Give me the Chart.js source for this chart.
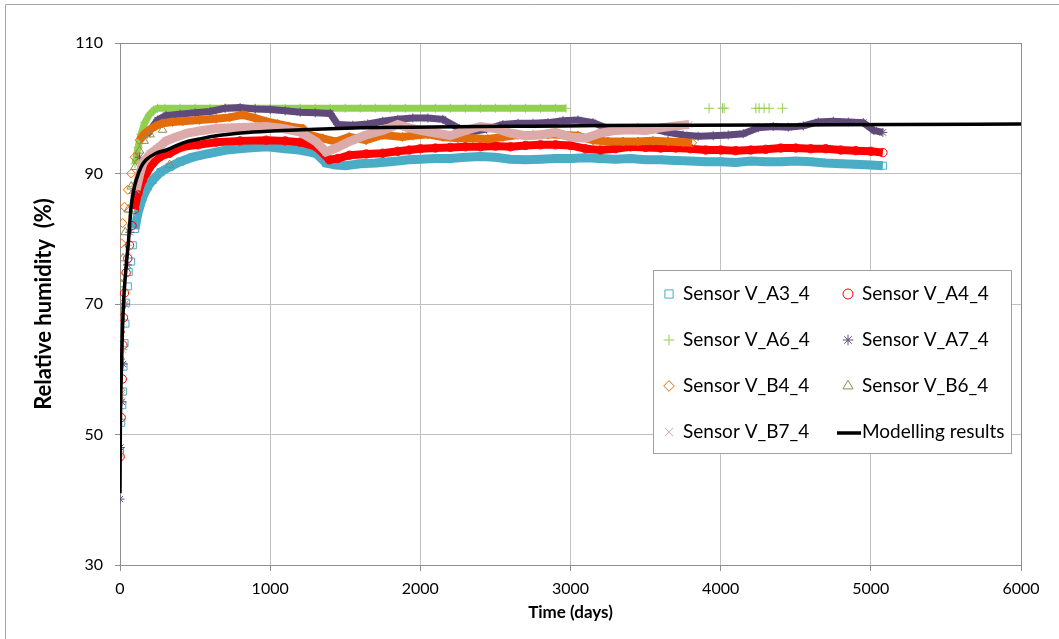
<!DOCTYPE html>
<html>
<head>
<meta charset="utf-8">
<style>
  html, body { margin: 0; padding: 0; background: #fff; }
  #wrap { width: 1059px; height: 639px; position: relative; }
</style>
<script src="https://cdn.jsdelivr.net/npm/chart.js@4.4.1/dist/chart.umd.min.js"></script>
</head>
<body>
<div id="wrap"><canvas id="rhChart"></canvas></div>
<script>
// Relative humidity measured by sensors vs. modelling results

// Sensor V_A3_4
const a3Days = [0, 8, 15, 19, 23, 30, 36, 41, 52, 58, 74, 85, 100, 120, 152, 185, 218, 270, 330, 400, 483, 580, 708, 850, 980, 1100, 1195, 1305, 1372, 1438, 1500, 1600, 1700, 1800, 1926, 2000, 2100, 2200, 2300, 2400, 2500, 2600, 2700, 2800, 2900, 3000, 3100, 3200, 3300, 3400, 3500, 3600, 3700, 3800, 3900, 4000, 4100, 4200, 4300, 4400, 4500, 4600, 4700, 4800, 4900, 5000, 5080];
const a3Rh = [47.4, 51.8, 54.5, 56.6, 60.4, 64.0, 67.0, 70.2, 72.7, 74.9, 76.5, 79.0, 81.5, 84.0, 86.4, 88.0, 89.0, 90.2, 91.0, 91.8, 92.5, 93.0, 93.6, 93.9, 94.1, 93.8, 93.6, 93.1, 91.6, 91.3, 91.2, 91.5, 91.6, 91.8, 92.1, 92.2, 92.3, 92.3, 92.5, 92.6, 92.5, 92.2, 92.1, 92.2, 92.3, 92.3, 92.4, 92.3, 92.2, 92.3, 92.1, 92.1, 92.0, 91.9, 91.8, 91.8, 91.7, 91.9, 91.8, 91.8, 91.9, 91.8, 91.6, 91.5, 91.4, 91.3, 91.2];

// Sensor V_A4_4
const a4Days = [1, 8, 15, 19, 23, 30, 41, 52, 63, 80, 97, 120, 150, 174, 220, 270, 330, 418, 520, 640, 800, 973, 1100, 1200, 1305, 1394, 1450, 1527, 1640, 1749, 1850, 1926, 2000, 2100, 2200, 2300, 2400, 2500, 2600, 2700, 2800, 2900, 3000, 3100, 3200, 3300, 3400, 3500, 3600, 3700, 3800, 3900, 4000, 4100, 4200, 4300, 4400, 4500, 4600, 4700, 4800, 4900, 5000, 5080];
const a4Rh = [46.6, 52.6, 58.5, 63.7, 67.9, 71.7, 74.8, 77.0, 79.0, 82.0, 84.5, 87.0, 89.0, 90.0, 91.6, 92.6, 93.1, 94.1, 94.4, 94.8, 95.0, 95.1, 95.0, 94.8, 94.1, 92.1, 92.3, 92.8, 93.0, 93.1, 93.4, 93.6, 93.8, 93.9, 94.0, 94.1, 94.1, 94.2, 94.1, 94.3, 94.4, 94.4, 94.3, 93.8, 93.6, 93.8, 94.1, 94.0, 93.9, 93.9, 93.8, 93.6, 93.6, 93.5, 93.6, 93.7, 93.9, 93.9, 93.8, 93.8, 93.6, 93.5, 93.4, 93.2];

// Sensor V_A6_4 (saturates at 100 %)
const a6Days = [0, 10, 20, 35, 50, 65, 80, 100, 120, 140, 165, 195, 225, 250, 300, 400, 500, 600, 700, 800, 900, 1000, 1100, 1200, 1300, 1400, 1500, 1600, 1700, 1800, 1900, 2000, 2100, 2200, 2300, 2400, 2500, 2600, 2700, 2800, 2900, 2970];
const a6Rh = [47, 56, 63, 72, 79, 84, 88, 91.5, 94, 96, 97.8, 99, 99.7, 100, 100, 100, 100, 100, 100, 100, 100, 100, 100, 100, 100, 100, 100, 100, 100, 100, 100, 100, 100, 100, 100, 100, 100, 100, 100, 100, 100, 100];
// a few isolated late readings of V_A6_4
const a6LateDays = [3923, 4012, 4023, 4234, 4256, 4289, 4323, 4411];
const a6LateRh = [100, 100, 100, 100, 100, 100, 100, 100];

// Sensor V_A7_4
const a7Days = [0, 3, 12, 20, 35, 50, 65, 90, 130, 180, 250, 307, 400, 500, 600, 700, 800, 900, 1000, 1100, 1200, 1300, 1400, 1450, 1550, 1650, 1750, 1850, 1950, 2050, 2150, 2260, 2350, 2440, 2550, 2650, 2750, 2850, 2950, 3050, 3150, 3250, 3350, 3450, 3550, 3650, 3750, 3850, 3950, 4050, 4150, 4250, 4350, 4450, 4550, 4650, 4750, 4850, 4950, 5020, 5080];
const a7Rh = [40.1, 48, 55, 60.8, 70, 76, 81, 87, 92.5, 96, 98.2, 98.9, 99.1, 99.3, 99.5, 100, 100.1, 99.9, 99.8, 99.6, 99.4, 99.3, 99.2, 97.5, 97.4, 97.6, 98.0, 98.3, 98.5, 98.5, 98.3, 96.9, 96.4, 96.8, 97.5, 97.7, 97.7, 97.8, 98.1, 98.2, 97.8, 96.9, 96.9, 97.0, 96.8, 96.3, 95.9, 95.7, 95.8, 95.9, 96.1, 97.0, 97.2, 97.1, 97.3, 97.9, 98.0, 97.9, 97.8, 96.6, 96.3];

// Sensor V_B4_4
const b4Days = [1, 3, 5, 7, 10, 18, 30, 52, 75, 97, 130, 160, 196, 240, 283, 350, 418, 530, 640, 730, 817, 900, 973, 1050, 1128, 1217, 1261, 1350, 1438, 1527, 1638, 1749, 1882, 1950, 2050, 2150, 2250, 2350, 2450, 2550, 2650, 2750, 2850, 2950, 3050, 3150, 3250, 3350, 3450, 3550, 3650, 3750, 3810];
const b4Rh = [56.8, 65.7, 70, 74.1, 79.3, 82.4, 84.9, 87.5, 90, 92.5, 95.1, 96, 96.7, 97.3, 97.7, 97.9, 98, 98.2, 98.4, 98.6, 99, 98.5, 98, 97.6, 97.2, 96.9, 95.9, 95.4, 94.9, 95.6, 95.1, 95.9, 95.6, 95.8, 96.0, 95.6, 95.4, 95.4, 95.3, 95.6, 95.9, 95.9, 96.0, 95.9, 95.8, 95.1, 94.9, 94.9, 94.9, 95.0, 94.9, 94.8, 94.7];

// Sensor V_B6_4 (only early readings)
const b6Days = [1, 2, 4, 10, 20, 35, 55, 75, 100, 130, 160, 200, 230, 283, 330];
const b6Rh = [55.4, 61.9, 68, 73, 77, 81, 84.5, 88, 91, 93.5, 95, 96, 93.6, 96.7, 91.3];

// Sensor V_B7_4
const b7Days = [0, 10, 20, 35, 55, 80, 108, 130, 152, 200, 263, 307, 375, 450, 550, 640, 750, 850, 973, 1084, 1195, 1305, 1372, 1438, 1527, 1638, 1749, 1850, 1926, 2000, 2100, 2200, 2300, 2400, 2500, 2600, 2700, 2800, 2900, 3000, 3100, 3200, 3300, 3400, 3500, 3600, 3700, 3790];
const b7Rh = [47, 56, 63, 70, 78, 84, 87.5, 89.8, 91.6, 93, 94.1, 95, 95.6, 96.2, 96.6, 96.9, 97, 97.1, 97.2, 96.9, 96.4, 94.9, 93.3, 93.9, 94.9, 95.9, 96.6, 97.5, 97, 96.6, 96.2, 95.8, 96.6, 97.2, 96.9, 96.2, 95.8, 95.9, 96.3, 95.6, 95.4, 96.2, 96.6, 96.7, 96.6, 97, 97.3, 97.5];

// Modelling results
const modelDays = [0, 2, 9, 22, 40, 57, 74, 90, 108, 140, 174, 240, 310, 420, 530, 640, 850, 1084, 1305, 1600, 1926, 2400, 2750, 3200, 3800, 4500, 5200, 6000];
const modelRh = [41, 50.2, 59.4, 69.5, 75.5, 79.8, 84.9, 87.3, 89, 91, 92.1, 93.1, 93.6, 94.7, 95.3, 95.8, 96.3, 96.6, 96.8, 97.0, 97.1, 97.2, 97.25, 97.35, 97.4, 97.45, 97.5, 97.6];

// Axis ticks
const xTicks = [0, 1000, 2000, 3000, 4000, 5000, 6000];
const yTicks = [30, 50, 70, 90, 110];

const FONT = 'Lato, "Open Sans", sans-serif';

function pts(days, rh) {
    return days.map((d, i) => ({ x: d, y: rh[i] }));
}

// Only markers during the fast early rise and across gaps / jumps
function gapColor(ctx) {
    const x0 = ctx.p0.parsed.x;
    const dx = ctx.p1.parsed.x - x0;
    const dy = Math.abs(ctx.p1.parsed.y - ctx.p0.parsed.y);
    return (x0 < 90 || dx > 200 || dy > 2.5) ? 'rgba(0,0,0,0)' : undefined;
}

function sensor(label, days, rh, color, style, radius, band, order) {
    return {
        label: label,
        data: pts(days, rh),
        showLine: band > 0,
        borderColor: color,
        borderWidth: band,
        pointStyle: style,
        pointRadius: radius,
        pointBorderWidth: 1,
        pointBorderColor: color,
        pointBackgroundColor: 'rgba(255,255,255,0)',
        segment: { borderColor: gapColor },
        order: order
    };
}

const lateA6 = sensor('Sensor V_A6_4', a6LateDays, a6LateRh, '#92d050', 'cross', 5, 0, 5);
lateA6.legendSkip = true;

const datasets = [
    sensor('Sensor V_A3_4', a3Days, a3Rh, '#4bacc6', 'rect', 5, 9, 7),
    sensor('Sensor V_A4_4', a4Days, a4Rh, '#ff0000', 'circle', 4.2, 8, 6),
    sensor('Sensor V_A6_4', a6Days, a6Rh, '#92d050', 'cross', 4.5, 7, 5),
    sensor('Sensor V_A7_4', a7Days, a7Rh, '#604a7b', 'star', 4.5, 7, 4),
    sensor('Sensor V_B4_4', b4Days, b4Rh, '#e46c0a', 'rectRot', 4.5, 8, 3),
    sensor('Sensor V_B6_4', b6Days, b6Rh, '#948a54', 'triangle', 5, 0, 2),
    sensor('Sensor V_B7_4', b7Days, b7Rh, '#dcaaa9', 'crossRot', 5, 9, 1),
    {
        label: 'Modelling results',
        data: pts(modelDays, modelRh),
        showLine: true,
        borderColor: '#000',
        borderWidth: 3.5,
        pointRadius: 0,
        cubicInterpolationMode: 'monotone',
        order: 0
    },
    lateA6
];

// White background + outer frame
const framePlugin = {
    id: 'frame',
    beforeDraw(chart) {
        const ctx = chart.ctx;
        ctx.save();
        ctx.fillStyle = '#fff';
        ctx.fillRect(0, 0, chart.width, chart.height);
        ctx.strokeStyle = '#a6a6a6';
        ctx.lineWidth = 1;
        ctx.beginPath();
        ctx.moveTo(5.5, chart.height);
        ctx.lineTo(5.5, 4.5);
        ctx.lineTo(chart.width, 4.5);
        ctx.stroke();
        ctx.restore();
    }
};

// Two-column legend box inside the plot
const legendPlugin = {
    id: 'boxLegend',
    afterDraw(chart) {
        const ctx = chart.ctx;
        const box = { x: 653.5, y: 270.5, w: 358, h: 183 };
        const colMarker = [669, 848];
        const colText = [683, 862];
        const rowY = [294, 340, 386, 432];
        ctx.save();
        ctx.fillStyle = '#fff';
        ctx.fillRect(box.x, box.y, box.w, box.h);
        ctx.strokeStyle = '#a0a0a0';
        ctx.lineWidth = 1;
        ctx.strokeRect(box.x, box.y, box.w, box.h);
        ctx.font = '19px ' + FONT;
        ctx.textBaseline = 'middle';
        chart.data.datasets.filter(ds => !ds.legendSkip).forEach((ds, i) => {
            const col = i % 2;
            const row = Math.floor(i / 2);
            const mx = colMarker[col];
            const y = rowY[row];
            if (ds.pointRadius > 0) {
                ctx.strokeStyle = ds.pointBorderColor;
                ctx.fillStyle = 'rgba(0,0,0,0)';
                ctx.lineWidth = 1;
                Chart.helpers.drawPoint(ctx, {
                    pointStyle: ds.pointStyle,
                    radius: ds.pointRadius + 0.8,
                    rotation: 0,
                    borderWidth: 1
                }, mx, y);
            } else {
                ctx.strokeStyle = ds.borderColor;
                ctx.lineWidth = 3.5;
                ctx.beginPath();
                ctx.moveTo(mx - 11, y + 1);
                ctx.lineTo(colText[col] - 1, y + 1);
                ctx.stroke();
            }
            ctx.fillStyle = '#000';
            ctx.fillText(ds.label, colText[col], y);
        });
        ctx.restore();
    }
};

new Chart(document.getElementById('rhChart'), {
    type: 'scatter',
    data: { datasets: datasets },
    plugins: [framePlugin, legendPlugin],
    options: {
        responsive: true,
        maintainAspectRatio: false,
        animation: false,
        devicePixelRatio: 1,
        layout: { padding: { left: 0, top: 43, right: 38, bottom: 0 } },
        plugins: {
            legend: { display: false },
            tooltip: { enabled: false }
        },
        scales: {
            x: {
                type: 'linear',
                min: 0,
                max: 6000,
                afterFit: s => { s.height = 74; },
                afterBuildTicks: s => { s.ticks = xTicks.map(v => ({ value: v })); },
                ticks: {
                    color: '#000',
                    padding: 8,
                    font: { family: FONT, size: 16 },
                    callback: v => String(v)
                },
                grid: {
                    color: c => (c.tick && c.tick.value === 6000) ? '#8e8e8e' : '#c0c0c0',
                    tickLength: 6,
                    tickColor: '#8e8e8e'
                },
                border: { color: '#8e8e8e' },
                title: {
                    display: true,
                    text: 'Time (days)',
                    color: '#000',
                    font: { family: FONT, size: 17, weight: 'bold' },
                    padding: { top: 0, bottom: 16 }
                }
            },
            y: {
                type: 'linear',
                min: 30,
                max: 110,
                afterFit: s => { s.width = 120; },
                afterBuildTicks: s => { s.ticks = yTicks.map(v => ({ value: v })); },
                ticks: {
                    color: '#000',
                    padding: 12,
                    font: { family: FONT, size: 16 },
                    callback: v => String(v)
                },
                grid: {
                    color: c => (c.tick && c.tick.value === 110) ? '#8e8e8e' : '#c0c0c0',
                    tickLength: 5,
                    tickColor: '#8e8e8e'
                },
                border: { color: '#8e8e8e' },
                title: {
                    display: true,
                    text: 'Relative humidity  (%)',
                    color: '#000',
                    font: { family: FONT, size: 22, weight: 'bold' },
                    padding: { top: 31, bottom: 0 }
                }
            }
        }
    }
});
</script>
</body>
</html>
